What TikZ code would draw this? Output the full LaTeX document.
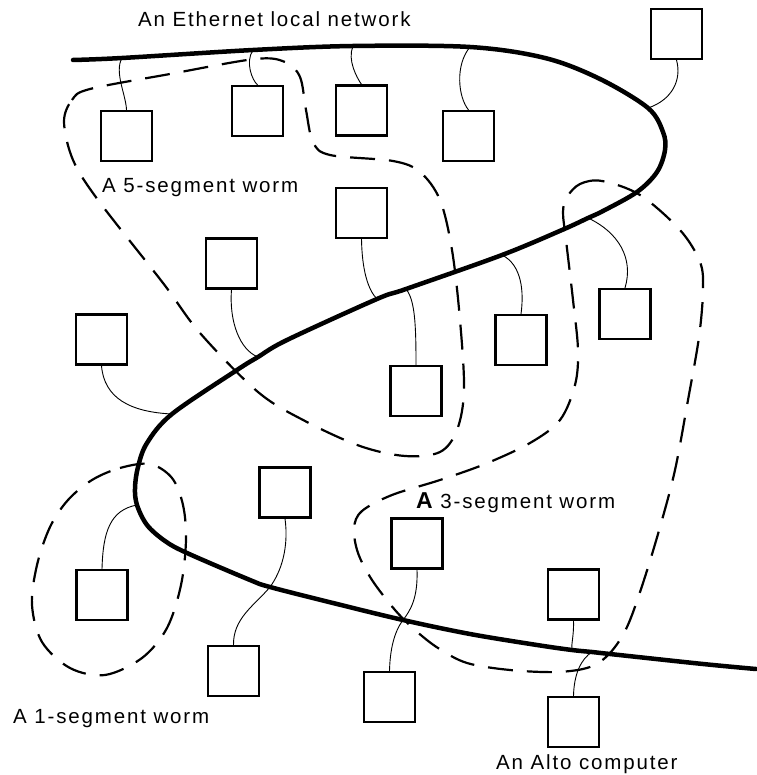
\documentclass[tikz,border=0pt]{standalone}
\usepackage{fontspec}
\newfontfamily\labelfont[LetterSpace=9]{Liberation Sans}
\begin{document}
\begin{tikzpicture}[x=1pt,y=-1pt,
  pc/.style={draw, line width=2.2pt, minimum width=51pt, minimum height=50pt, inner sep=0pt},
  ether/.style={line width=4.5pt, line cap=round, line join=round},
  wire/.style={line width=0.9pt},
  worm/.style={line width=2.2pt, dash pattern=on 25pt off 14pt},
  lbl/.style={font=\labelfont\fontsize{20.5}{24}\selectfont, anchor=base west, inner sep=0pt}]
\useasboundingbox (0,0) rectangle (756,775);

% Alto computers
\node[pc] (A) at (126.5,136) {};
\node[pc] (B) at (257.5,111) {};
\node[pc] (C) at (361.5,110.5) {};
\node[pc] (D) at (468.5,136) {};
\node[pc] (E) at (676.5,34) {};
\node[pc] (F) at (361.5,213) {};
\node[pc] (G) at (231.5,263.5) {};
\node[pc] (H) at (625,314) {};
\node[pc] (I) at (101.5,339.5) {};
\node[pc] (J) at (521,340) {};
\node[pc] (K) at (416,391) {};
\node[pc] (L) at (285,492.5) {};
\node[pc] (M) at (417,543.5) {};
\node[pc] (N) at (102,595) {};
\node[pc] (O) at (573.5,594.5) {};
\node[pc] (P) at (233.5,671) {};
\node[pc] (Q) at (389.5,697) {};
\node[pc] (R) at (573.5,722) {};

% taps on the Ethernet cable
\coordinate (wA) at (122,58);
\coordinate (wB) at (253,50);
\coordinate (wC) at (353,46);
\coordinate (wD) at (470,47);
\coordinate (wE) at (648,108);
\coordinate (wH) at (588,218);
\coordinate (wJ) at (502,255);
\coordinate (wK) at (406,289);
\coordinate (wF) at (377,299);
\coordinate (wG) at (258,357);
\coordinate (wI) at (172,414);
\coordinate (wN) at (137,505);
\coordinate (wLP) at (270,587);
\coordinate (wMQ) at (403,620);
\coordinate (wO) at (572,650);
\coordinate (wR) at (592,652);

% the Ethernet cable
\draw[ether] plot[smooth, tension=0.55] coordinates {
  (73,60) (122,58) (253,50) (353,46) (470,47) (545,58) (600,79) (648,108)
  (663,132) (665,150) (657,172) (637,192) (603,211) (588,218) (562,230)
  (502,255) (406,289) (377,299) (287,340) (258,357) (237,370) (172,414)
  (147,443) (138,467) (135,488) (137,505) (147,525) (165,541) (187,553)
  (250,580) (270,587) (333,603) (403,620) (470,634) (537,645) (572,650)
  (592,652) (610,654) (703,664) (756,669)};

% transceiver cables
\draw[wire] (wA) .. controls (114,72) and (126,95) .. (A.north);
\draw[wire] (wB) .. controls (245,62) and (252,80) .. (B.north);
\draw[wire] (wC) .. controls (347,60) and (357,78) .. (C.north);
\draw[wire] (wD) .. controls (455,65) and (458,97) .. (D.north);
\draw[wire] (E.south) .. controls (682,80) and (672,100) .. (wE);
\draw[wire] (F.south) .. controls (362,270) and (368,290) .. (wF);
\draw[wire] (wK) .. controls (415,300) and (416,325) .. (K.north);
\draw[wire] (G.south) .. controls (229,322) and (240,350) .. (wG);
\draw[wire] (I.south) .. controls (104,398) and (130,412) .. (wI);
\draw[wire] (wJ) .. controls (522,265) and (524,292) .. (J.north);
\draw[wire] (wH) .. controls (618,232) and (634,258) .. (H.north);
\draw[wire] (N.north) .. controls (103,532) and (110,510) .. (wN);
\draw[wire] (L.south) .. controls (289,548) and (281,572) .. (wLP);
\draw[wire] (wLP) .. controls (255,605) and (233,618) .. (P.north);
\draw[wire] (M.south) .. controls (418,597) and (411,610) .. (wMQ);
\draw[wire] (wMQ) .. controls (394,632) and (390,650) .. (Q.north);
\draw[wire] (O.south) .. controls (574,636) and (571,644) .. (wO);
\draw[wire] (R.north) .. controls (574,674) and (581,659) .. (wR);

% worms
\draw[worm] plot[smooth cycle, tension=0.55] coordinates {
  (64,122) (72,100) (90,89) (170,74) (255,59) (285,62) (300,77) (306,110)
  (313,142) (330,155) (393,161) (420,172) (440,200) (452,250) (460,320)
  (464,390) (457,430) (440,452) (405,456) (360,446) (305,421) (258,392)
  (200,333) (163,283) (98,200) (73,160)};
\draw[worm] plot[smooth cycle, tension=0.55] coordinates {
  (567,197) (580,184) (602,181) (640,195) (680,230) (700,262) (703,290)
  (699,337) (688,400) (675,470) (660,527) (643,583) (627,627) (610,653)
  (590,667) (557,672) (510,670) (467,663) (438,648) (415,630) (395,610)
  (372,580) (358,553) (354,528) (362,511) (392,495) (440,480) (485,464)
  (530,443) (560,420) (575,385) (578,350) (573,300) (566,240) (563,212)};
\draw[worm] plot[smooth cycle, tension=0.55] coordinates {
  (92,480) (120,468) (150,464) (172,478) (183,505) (186,540) (181,585)
  (167,628) (142,658) (105,675) (70,668) (42,642) (32,605) (37,565)
  (50,527) (68,500)};

% labels
\node[lbl] (tNet) at (138,27) {An Ethernet local network};
\node[lbl] (t5) at (102,193) {A 5-segment worm};
\node[lbl] (t3) at (416,508) {{\fontsize{23}{24}\selectfont\bfseries A} 3-segment worm};
\node[lbl] (t1) at (13,723) {A 1-segment worm};
\node[lbl] (tAlto) at (496,769) {An Alto computer};
\end{tikzpicture}
\end{document}
